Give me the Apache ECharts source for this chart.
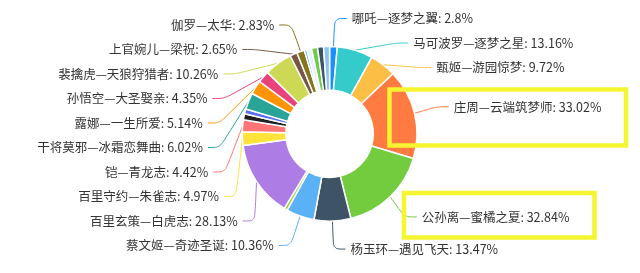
<!DOCTYPE html>
<html>
<head>
<meta charset="utf-8">
<script src="https://cdn.jsdelivr.net/npm/echarts@6/dist/echarts.min.js"></script>
<style>
html,body{margin:0;padding:0;background:#fff;}
#c{width:640px;height:273px;}
</style>
</head>
<body>
<div id="c"></div>
<script>
// categories (clockwise from 12 o'clock)
const names = [
  '哪吒—逐梦之翼', '马可波罗—逐梦之星', '甄姬—游园惊梦', '庄周—云端筑梦师',
  '公孙离—蜜橘之夏', '杨玉环—遇见飞天', '蔡文姬—奇迹圣诞', '未标注A',
  '百里玄策—白虎志', '百里守约—朱雀志', '铠—青龙志', '未标注B', '未标注C',
  '干将莫邪—冰霜恋舞曲', '露娜—一生所爱', '孙悟空—大圣娶亲', '裴擒虎—天狼狩猎者',
  '上官婉儿—梁祝', '伽罗—太华', '未标注D', '未标注E', '未标注F', '未标注G', '未标注H'
];
// values (percent)
const values = [
  2.8, 13.16, 9.72, 33.02,
  32.84, 13.47, 10.36, 1.2,
  28.13, 4.97, 4.42, 2.2, 1.8,
  6.02, 5.14, 4.35, 10.26,
  2.65, 2.83, 0.9, 1.8, 2.2, 2.2, 2.2
];
// whether the label is shown in the reference
const labelled = [
  1,1,1,1,
  1,1,1,0,
  1,1,1,0,0,
  1,1,1,1,
  1,1,0,0,0,0,0
];
const palette = [
  '#1890FF', '#36CBCB', '#FBBF45', '#FF7B42',
  '#72CC3E', '#3E5366', '#5AB1F6', '#9BCB3B',
  '#AE7CE5', '#FFE33B', '#FF7575', '#1F1F1F', '#5B6EF0',
  '#28A596', '#FF9505', '#E8437B', '#CDD955',
  '#7A5545', '#86751A', '#4AA8F0', '#E6F2FA', '#6CCB4A', '#3E5366', '#8CC3F2'
];

const data = names.map((n, i) => ({
  name: n,
  value: values[i],
  itemStyle: { color: palette[i] },
  label: { show: !!labelled[i] },
  labelLine: { show: !!labelled[i] }
}));

const chart = echarts.init(document.getElementById('c'), null, { renderer: 'canvas' });
chart.setOption({
  animation: false,
  backgroundColor: '#fff',
  series: [{
    type: 'pie',
    center: ['51.5%', '49%'],
    radius: ['32%', '64%'],
    startAngle: 90,
    clockwise: true,
    avoidLabelOverlap: true,
    itemStyle: { borderColor: '#fff', borderWidth: 1.5 },
    label: {
      formatter: '{b}: {c}%',
      fontSize: 12.5,
      color: '#333',
      minMargin: 12,
      fontFamily: '"Microsoft YaHei", "Noto Sans CJK SC", sans-serif'
    },
    labelLine: { length: 28, length2: 12, smooth: true },
    data: data
  }],
  graphic: [
    { type: 'rect', shape: { x: 389.5, y: 89.5, width: 236.5, height: 56 },
      style: { fill: 'none', stroke: '#F5F531', lineWidth: 4.5 }, z: 100 },
    { type: 'rect', shape: { x: 404, y: 193, width: 190.5, height: 44.5 },
      style: { fill: 'none', stroke: '#F5F531', lineWidth: 4.5 }, z: 100 }
  ]
});
</script>
</body>
</html>
